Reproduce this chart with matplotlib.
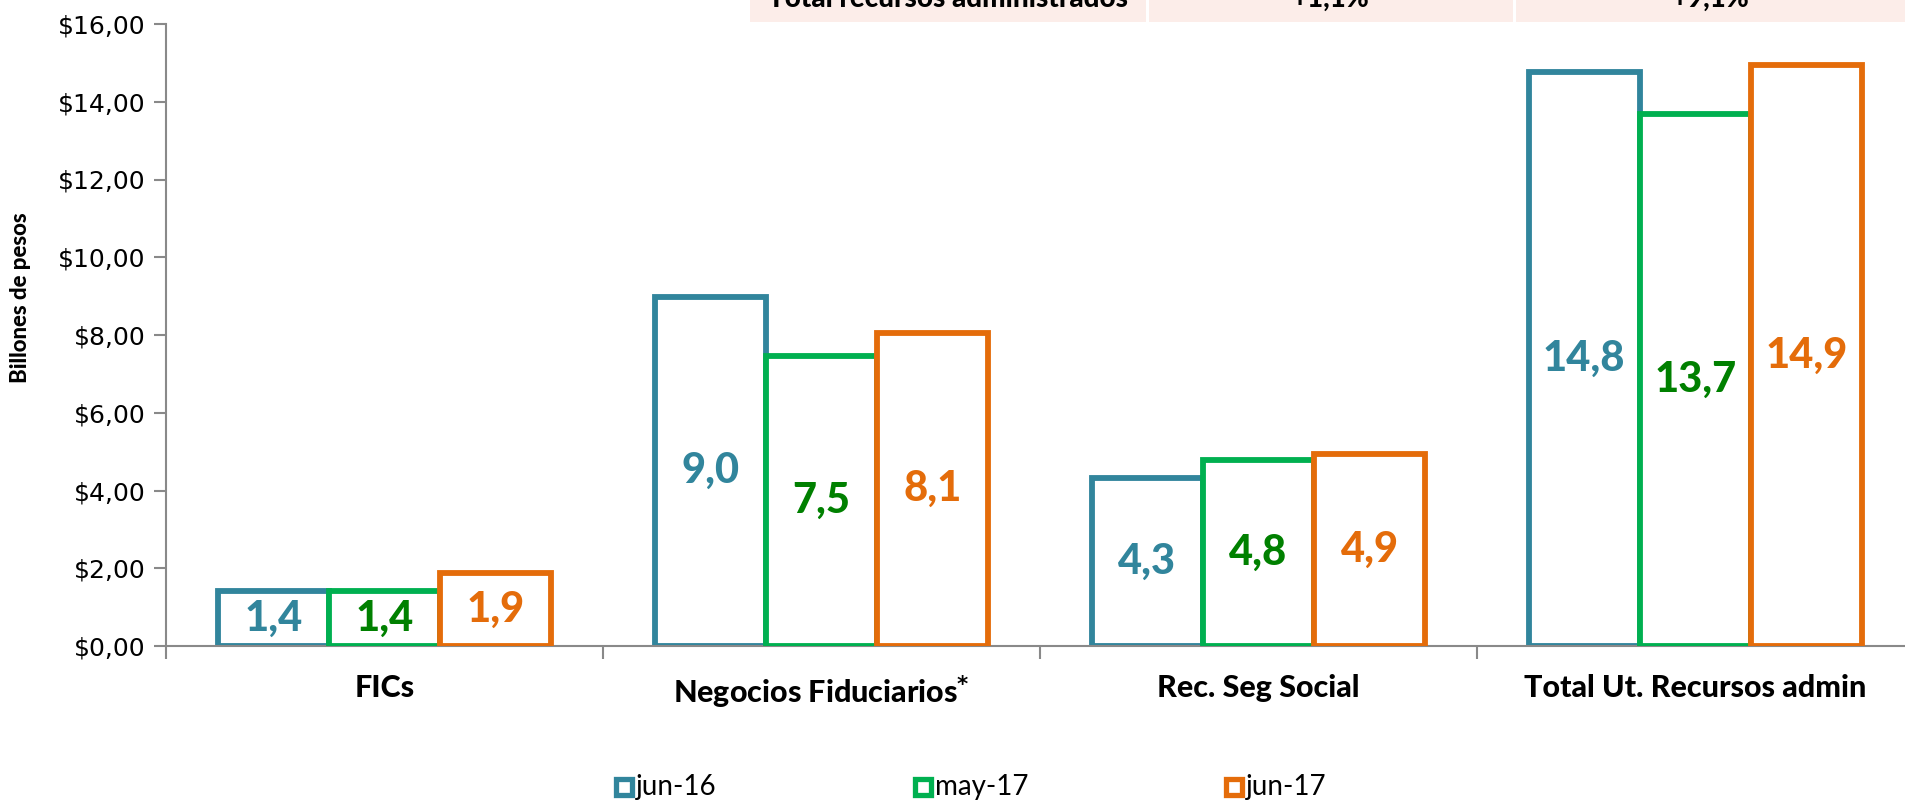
import matplotlib.pyplot as plt
import numpy as np
from matplotlib.patches import Rectangle

plt.rcParams["mathtext.fontset"] = "custom"
plt.rcParams["mathtext.bf"] = "DejaVu Sans:bold"

# datos (billones de pesos)
categorias = ["FICs", "Negocios Fiduciarios$^{\\mathbf{*}}$", "Rec. Seg Social", "Total Ut. Recursos admin"]
series = ["jun-16", "may-17", "jun-17"]
jun16 = [1.42, 8.99, 4.31, 14.76]
may17 = [1.42, 7.47, 4.78, 13.69]
jun17 = [1.88, 8.06, 4.94, 14.94]
y_ticks = [0, 2, 4, 6, 8, 10, 12, 14, 16]

tabla_textos = ["Total recursos administrados", "+1,1%", "+9,1%"]

colores = ["#31859C", "#00B050", "#E46C0A"]
colores_txt = ["#31859C", "#008000", "#E46C0A"]
gris = "#898989"

W, H = 1905, 802
fig = plt.figure(figsize=(W / 100, H / 100), dpi=100)
ax = fig.add_axes([166 / W, 156 / H, 1748 / W, 622 / H])

x = np.arange(len(categorias))
ancho = 0.2546
for i, vals in enumerate([jun16, may17, jun17]):
    pos = x + (i - 1) * ancho
    ax.bar(pos, vals, width=ancho, facecolor="white", edgecolor=colores[i],
           linewidth=4.2, zorder=2 + i)
    for px, v in zip(pos, vals):
        ax.text(px, v / 2, f"{v:.1f}".replace(".", ","), ha="center", va="center",
                fontsize=30, fontweight="black", family="Lato", color=colores_txt[i],
                zorder=10)

ax.set_xlim(-0.5, 3.5)
ax.set_ylim(0, 16)
ax.set_yticks(y_ticks)
ax.set_yticklabels([f"${t},00" for t in y_ticks], fontsize=18, family="DejaVu Sans")
ax.set_xticks(np.arange(-0.5, 4, 1))
ax.set_xticklabels([])
ax.set_xticks(x, minor=True)
ax.set_xticklabels(categorias, minor=True, fontsize=22, fontweight="black", family="Lato")
ax.tick_params(axis="x", which="minor", length=0, pad=20)
ax.tick_params(axis="x", which="major", length=9, color=gris, width=1.5)
ax.tick_params(axis="y", length=9, color=gris, width=1.5, pad=6)
for s in ["top", "right"]:
    ax.spines[s].set_visible(False)
for s in ["left", "bottom"]:
    ax.spines[s].set_color(gris)
    ax.spines[s].set_linewidth(1.5)

ax.set_ylabel("Billones de pesos", fontsize=16, fontweight="black", family="Lato")
ax.yaxis.set_label_coords(-0.077, 0.56)

# leyenda
ley_x = [624, 923, 1234]
for i, nombre in enumerate(series):
    fig.patches.append(Rectangle(((ley_x[i] - 8) / W, (802 - 795) / H), 16 / W, 16 / H,
                                 transform=fig.transFigure, facecolor="white",
                                 edgecolor=colores[i], linewidth=3.8))
    fig.text((ley_x[i] + 12) / W, (802 - 787) / H, nombre, fontsize=20, family="Lato",
             va="center", ha="left")

# fila de tabla cortada arriba
celdas = [(750, 1146), (1149, 1513), (1516, 1905)]
for (a, b), t in zip(celdas, tabla_textos):
    fig.patches.append(Rectangle((a / W, 1 - 22 / H), (b - a) / W, 22 / H,
                                 transform=fig.transFigure, facecolor="#FCEDE9",
                                 edgecolor="none"))
    fig.text((a + b) / 2 / W, 1 - 7 / H, t, fontsize=20, fontweight="black",
             family="Lato", ha="center", va="baseline")

fig.savefig("out.png", dpi=100)
